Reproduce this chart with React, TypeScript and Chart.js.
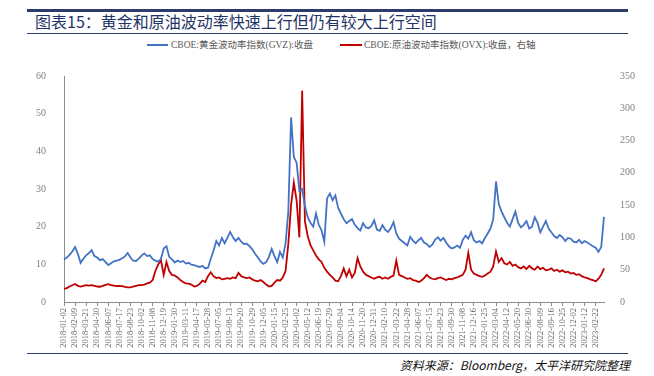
import React, { useEffect, useRef } from 'react';
import { Chart, registerables } from 'chart.js';

Chart.register(...registerables);

// Tick labels shown on the x axis (one every 4 data points)
const tickDates = [
  '2018-01-02', '2018-02-09', '2018-03-21', '2018-04-30', '2018-06-07', '2018-07-17', '2018-08-23',
  '2018-10-02', '2018-11-08', '2018-12-19', '2019-01-30', '2019-03-11', '2019-04-17', '2019-05-28',
  '2019-07-05', '2019-08-13', '2019-09-20', '2019-10-29', '2019-12-05', '2020-01-15', '2020-02-25',
  '2020-04-02', '2020-05-12', '2020-06-19', '2020-07-29', '2020-09-04', '2020-10-14', '2020-11-20',
  '2020-12-31', '2021-02-10', '2021-03-22', '2021-04-28', '2021-06-07', '2021-07-15', '2021-08-23',
  '2021-09-30', '2021-11-08', '2021-12-16', '2022-01-25', '2022-03-04', '2022-04-12', '2022-05-20',
  '2022-06-30', '2022-08-09', '2022-09-16', '2022-10-25', '2022-12-02', '2023-01-12', '2023-02-22',
];

const POINTS_PER_TICK = 4;

// CBOE gold volatility index (GVZ), close — left axis
const gvzClose = [
  11.3, 11.8, 12.5, 13.4, 14.6, 12.8, 10.4, 11.5, 12.4, 13.0,
  13.8, 12.2, 11.8, 11.1, 11.4, 10.6, 9.8, 10.3, 10.8, 11.0,
  11.2, 11.6, 12.1, 13.0, 11.8, 11.0, 10.9, 11.5, 12.3, 12.9,
  12.2, 12.4, 11.4, 11.0, 10.7, 11.4, 14.2, 14.8, 12.0, 11.3,
  10.5, 11.0, 10.6, 10.9, 10.2, 10.4, 9.9, 9.8, 9.5, 9.3,
  9.6, 8.9, 9.1, 11.5, 13.6, 16.2, 15.0, 17.0, 15.6, 17.0,
  18.6, 17.2, 16.2, 17.0, 16.0, 15.4, 15.5, 14.8, 14.0, 12.8,
  11.8, 10.8, 10.1, 10.6, 12.0, 14.1, 12.2, 10.6, 13.3, 11.8,
  15.5, 24.0, 49.0, 38.5, 37.0, 29.5, 30.0, 25.5, 22.5, 21.0,
  20.0, 23.5, 20.5, 19.0, 16.0, 27.5, 28.8, 27.0, 28.3, 25.0,
  23.5, 22.0, 20.9, 21.5, 22.0, 20.5, 19.6, 19.0, 20.9, 19.8,
  19.6, 20.2, 21.7, 19.2, 18.9, 20.4, 19.2, 18.6, 19.6, 21.2,
  18.2, 16.8, 16.2, 15.6, 15.0, 17.3, 16.3, 15.6, 16.4, 17.0,
  15.8, 15.4, 14.6, 15.2, 16.5, 17.2, 16.3, 17.0, 15.8, 14.8,
  14.2, 14.5, 15.0, 14.4, 16.5, 17.6, 16.8, 18.5, 16.4, 15.8,
  16.2, 15.6, 17.0, 18.2, 19.5, 22.0, 32.0, 26.0, 24.0, 22.5,
  21.0, 20.0, 22.0, 24.0, 21.0, 19.8, 20.5, 21.5, 19.5, 20.0,
  22.5, 21.0, 18.5, 20.0, 21.5, 19.5, 18.5, 17.5, 17.0, 17.8,
  17.2, 16.2, 17.0, 16.8, 16.0, 15.8, 16.5, 15.6, 16.2, 15.8,
  15.3, 14.8, 14.4, 13.3, 14.6, 22.6,
];

// CBOE crude oil volatility index (OVX), close — right axis
const ovxClose = [
  20.5, 21.5, 24, 26, 28, 25, 24, 25, 26, 25.5,
  26, 25, 24, 23.6, 25, 26.5, 27.5, 26, 25.5, 24.7,
  25, 24.5, 23.5, 22.8, 22.6, 24, 25, 26, 26, 27,
  28.8, 30, 34, 48, 58, 65, 42, 62, 48, 42,
  41, 38, 34, 31, 29, 28.5, 27, 24, 25, 28,
  33, 31, 40, 46, 40, 37, 38, 35, 36, 37,
  36, 38, 37, 45, 40, 38, 37, 38, 35, 33,
  32, 34, 31, 27, 24, 25, 30, 34, 33, 38,
  48, 90, 150, 185, 157, 100, 327, 125, 102, 88,
  80, 72, 66, 62, 53, 47, 42, 38, 33, 32,
  40, 52, 40, 50, 38, 45, 68, 55, 47, 42,
  40, 38, 36, 38, 39, 36, 38, 36, 39, 41,
  64, 42, 40, 38, 36, 37, 34, 33, 31, 33,
  37, 42, 38, 36, 35, 37, 38, 36, 34, 36,
  35, 37, 38, 40, 42, 50, 76, 50, 44, 42,
  40, 39, 41, 44, 47, 55, 78, 62, 68, 60,
  58, 62, 56, 58, 54, 52, 55, 51, 56, 52,
  50, 55, 51, 53, 49, 50, 52, 48, 50, 47,
  49, 46, 47, 44, 45, 42, 43, 40, 38, 37,
  35, 34, 32, 36, 42, 52,
];

const seriesNames = ['CBOE:黄金波动率指数(GVZ):收盘', 'CBOE:原油波动率指数(OVX):收盘，右轴'];
const seriesColors = ['#4472C4', '#C00000'];

const categories = gvzClose.map((_, i) =>
  i % POINTS_PER_TICK === 0 && tickDates[i / POINTS_PER_TICK] ? tickDates[i / POINTS_PER_TICK] : ''
);

const SERIF = '"Times New Roman", "Liberation Serif", "DejaVu Serif", "Noto Sans CJK SC", serif';
const NAVY = '#2E3C6B';

export default function App() {
  const canvasRef = useRef<HTMLCanvasElement | null>(null);

  useEffect(() => {
    if (!canvasRef.current) return;
    const chart = new Chart(canvasRef.current, {
      type: 'line',
      data: {
        labels: categories,
        datasets: [
          {
            label: seriesNames[0],
            data: gvzClose,
            borderColor: seriesColors[0],
            backgroundColor: seriesColors[0],
            borderWidth: 1.8,
            pointRadius: 0,
            tension: 0,
            yAxisID: 'y',
          },
          {
            label: seriesNames[1],
            data: ovxClose,
            borderColor: seriesColors[1],
            backgroundColor: seriesColors[1],
            borderWidth: 1.8,
            pointRadius: 0,
            tension: 0,
            yAxisID: 'y1',
          },
        ],
      },
      options: {
        animation: false,
        responsive: false,
        layout: { padding: { top: 15, left: 8, right: 0, bottom: 0 } },
        plugins: { legend: { display: false }, tooltip: { enabled: false } },
        scales: {
          x: {
            type: 'category',
            offset: false,
            grid: { display: true, drawOnChartArea: false, drawTicks: true, tickLength: 4, color: '#8c8c8c' },
            border: { display: true, color: '#8c8c8c', width: 1 },
            ticks: {
              autoSkip: false,
              maxRotation: 90,
              minRotation: 90,
              padding: 2,
              color: '#666666',
              font: { family: SERIF, size: 8.5 },
              callback: (_v: any, i: number) => (categories[i] ? categories[i] : null),
            },
            afterFit: (s: any) => { s.height = 50; },
          },
          y: {
            position: 'left',
            min: 0,
            max: 60,
            grid: { display: false },
            border: { display: true, color: '#8c8c8c', width: 1 },
            ticks: { stepSize: 10, padding: 10, color: '#808080', font: { family: SERIF, size: 10 } },
            afterFit: (s: any) => { s.width = 56; },
          },
          y1: {
            position: 'right',
            min: 0,
            max: 350,
            grid: { display: false },
            border: { display: false },
            ticks: { stepSize: 50, padding: 8, color: '#808080', font: { family: SERIF, size: 10 } },
            afterFit: (s: any) => { s.width = 50; },
          },
        },
      },
    });
    return () => chart.destroy();
  }, []);

  const legendText: React.CSSProperties = {
    position: 'absolute',
    top: 39,
    fontFamily: SERIF,
    fontSize: 9.5,
    color: '#595959',
    whiteSpace: 'nowrap',
    lineHeight: '12px',
  };

  return (
    <div style={{ position: 'fixed', left: 0, top: 0, width: 654, height: 376, background: '#fff', overflow: 'hidden' }}>
      <div style={{ position: 'absolute', left: 27, top: 9, width: 601, height: 3, background: NAVY }} />
      <div
        style={{
          position: 'absolute',
          left: 35,
          top: 12,
          fontFamily: '"Noto Sans CJK SC", sans-serif',
          fontSize: 16,
          lineHeight: '19px',
          color: '#1F3468',
          whiteSpace: 'nowrap',
        }}
      >
        图表15：黄金和原油波动率快速上行但仍有较大上行空间
      </div>
      <div style={{ position: 'absolute', left: 27, top: 33, width: 601, height: 1, background: NAVY }} />

      <div style={{ position: 'absolute', left: 147, top: 44, width: 21, height: 2, background: seriesColors[0] }} />
      <div style={{ ...legendText, left: 171 }}>{seriesNames[0]}</div>
      <div style={{ position: 'absolute', left: 340, top: 44, width: 22, height: 2, background: seriesColors[1] }} />
      <div style={{ ...legendText, left: 364 }}>{seriesNames[1]}</div>

      <div style={{ position: 'absolute', left: 0, top: 60, width: 654, height: 292 }}>
        <canvas ref={canvasRef} width={654} height={292} style={{ display: 'block' }} />
      </div>

      <div style={{ position: 'absolute', left: 27, top: 353, width: 601, height: 1, background: NAVY }} />
      <div
        style={{
          position: 'absolute',
          right: 24,
          top: 357,
          fontFamily: '"Noto Sans CJK SC", sans-serif',
          fontStyle: 'italic',
          fontSize: 12,
          lineHeight: '16px',
          color: '#111',
          whiteSpace: 'nowrap',
        }}
      >
        资料来源：Bloomberg，太平洋研究院整理
      </div>
    </div>
  );
}
